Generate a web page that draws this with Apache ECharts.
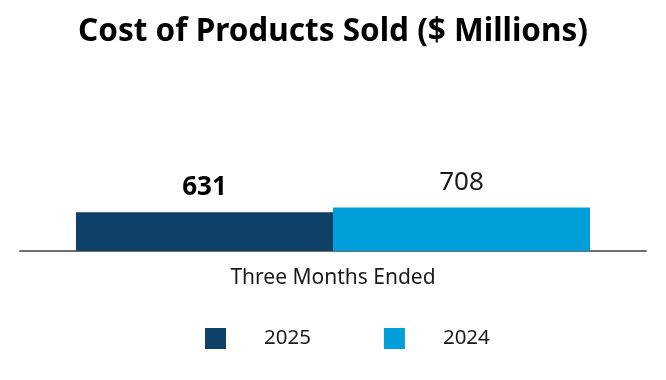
<!DOCTYPE html>
<html>
<head>
<meta charset="utf-8">
<script src="https://cdn.jsdelivr.net/npm/echarts@6/dist/echarts.min.js"></script>
<style>html,body{margin:0;padding:0;background:#fff}#c{width:666px;height:380px}</style>
</head>
<body>
<div id="c"></div>
<script>
const titleText = 'Cost of Products Sold ($ Millions)';
const categories = ['Three Months Ended'];
const seriesNames = ['2025', '2024'];
const values2025 = [631];
const values2024 = [708];
const colors = ['#0E4068', '#009FDB'];

const chart = echarts.init(document.getElementById('c'), null, {renderer: 'canvas'});
const FONT = '"Noto Sans", sans-serif';
chart.setOption({
  animation: false,
  backgroundColor: '#ffffff',
  title: {
    text: titleText,
    left: 'center',
    top: 11,
    textStyle: {fontFamily: FONT, fontWeight: 'bold', fontSize: 31.5, color: '#000'}
  },
  legend: {
    data: seriesNames,
    left: 200,
    top: 323,
    itemWidth: 21,
    itemHeight: 21,
    itemGap: 73,
    icon: 'rect',
    textStyle: {fontFamily: FONT, fontSize: 20.5, color: '#1a1a1a', padding: [0, 0, 0, 33]}
  },
  grid: {left: 20, right: 20, top: 97, bottom: 129},
  xAxis: {
    type: 'category',
    data: categories,
    axisLine: {lineStyle: {color: '#6e6e6e', width: 2}},
    axisTick: {show: false},
    axisLabel: {fontFamily: FONT, fontSize: 21, color: '#1a1a1a', margin: 17}
  },
  yAxis: {
    type: 'value', min: 0, max: 2500,
    show: false, splitLine: {show: false}
  },
  series: [
    {
      name: seriesNames[0], type: 'bar', data: values2025, barWidth: 257, barGap: '0%',
      itemStyle: {color: colors[0]},
      label: {show: true, position: 'top', distance: 12, fontFamily: FONT, fontSize: 26, fontWeight: 'bold', color: '#000'}
    },
    {
      name: seriesNames[1], type: 'bar', data: values2024, barWidth: 257, barGap: '0%',
      itemStyle: {color: colors[1]},
      label: {show: true, position: 'top', distance: 12, fontFamily: FONT, fontSize: 26, color: '#1a1a1a'}
    }
  ]
});
</script>
</body>
</html>
